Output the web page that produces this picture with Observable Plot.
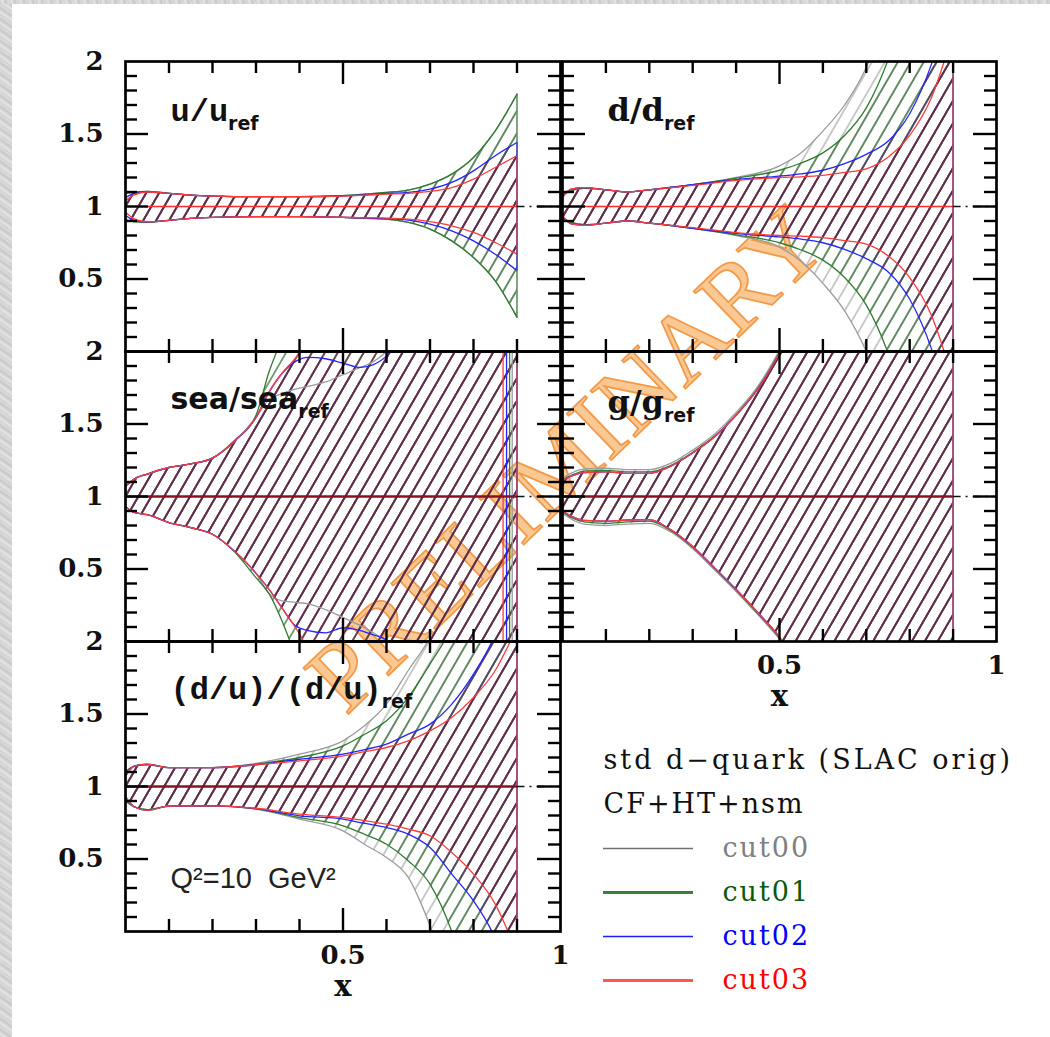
<!DOCTYPE html>
<html>
<head>
<meta charset="utf-8">
<script src="https://cdn.jsdelivr.net/npm/d3@7"></script>
<script src="https://cdn.jsdelivr.net/npm/@observablehq/plot@0.6"></script>
<style>
  html, body { margin: 0; padding: 0; background: #ffffff; }
  #page { position: relative; width: 1050px; height: 1037px; background: #ffffff; overflow: hidden; }
  #strip-left { position: absolute; left: 0; top: 0; width: 12px; height: 1037px;
    background: repeating-linear-gradient(35deg, #cfcfcf 0px, #e4e4e4 3px, #c8c8c8 6px, #dedede 9px); }
  #strip-top { position: absolute; left: 0; top: 0; width: 1050px; height: 4px;
    background: repeating-linear-gradient(80deg, #cfcfcf 0px, #e4e4e4 3px, #c8c8c8 6px, #dedede 9px); }
  .cell { position: absolute; }
  .cell svg { overflow: visible; }
</style>
</head>
<body>
<div id="page">
  <div id="strip-left"></div>
  <div id="strip-top"></div>
</div>
<script>
// ---------------- data ----------------
const cuts = ["cut00", "cut01", "cut02", "cut03"];
const lineColors = ["#9c9c9c", "#2f7d2f", "#2424ff", "#ff3a3a"];
const hatchColors = ["#ababab", "#2f6b2f", "#4a2868", "#6c1a3c"];
const legendLineColors = ["#707070", "#3d7d3d", "#1e1eff", "#ff5555"];
const legendTextColors = ["#808080", "#0a5a0a", "#0000ff", "#ff0000"];
const legendTitles = ["std d\u2212quark (SLAC orig)", "CF+HT+nsm"];
const q2Label = ["Q\u00b2=10  GeV\u00b2"];
const watermark = "PRELIMINARY";

const yTickLabels = [0.5, 1, 1.5, 2];
const xTickLabels = [0.5, 1];
const xAxisLabel = ["x"];
const minorXTicks = [0.1, 0.2, 0.3, 0.4, 0.6, 0.7, 0.8, 0.9];
const majorXTicks = [0.5];
const minorYTicks = [0.1, 0.2, 0.3, 0.4, 0.6, 0.7, 0.8, 0.9, 1.1, 1.2, 1.3, 1.4, 1.6, 1.7, 1.8, 1.9];
const majorYTicks = [0.5, 1, 1.5];
const refValue = [1];
const xEnd = 1;

// u / u_ref
const uX = [0, 0.02, 0.05, 0.1, 0.15, 0.2, 0.3, 0.4, 0.5, 0.55, 0.6, 0.65, 0.7, 0.75, 0.8, 0.85, 0.9];
const uUpper = [
  [1.09, 1.10, 1.105, 1.09, 1.078, 1.072, 1.068, 1.068, 1.075, 1.085, 1.097, 1.113, 1.154, 1.223, 1.338, 1.522, 1.775],
  [1.09, 1.10, 1.105, 1.09, 1.078, 1.072, 1.068, 1.068, 1.075, 1.085, 1.097, 1.113, 1.154, 1.223, 1.338, 1.522, 1.775],
  [1.06, 1.09, 1.10, 1.09, 1.078, 1.072, 1.068, 1.068, 1.074, 1.080, 1.090, 1.097, 1.120, 1.166, 1.246, 1.350, 1.442],
  [1.04, 1.08, 1.10, 1.09, 1.078, 1.072, 1.068, 1.068, 1.072, 1.078, 1.085, 1.090, 1.104, 1.131, 1.189, 1.269, 1.350]
];
const uLower = [
  [0.91, 0.895, 0.89, 0.905, 0.918, 0.925, 0.93, 0.93, 0.925, 0.918, 0.913, 0.89, 0.844, 0.763, 0.648, 0.487, 0.235],
  [0.91, 0.895, 0.89, 0.905, 0.918, 0.925, 0.93, 0.93, 0.925, 0.918, 0.913, 0.89, 0.844, 0.763, 0.648, 0.487, 0.235],
  [0.94, 0.905, 0.893, 0.905, 0.918, 0.925, 0.93, 0.93, 0.925, 0.92, 0.917, 0.906, 0.878, 0.832, 0.763, 0.671, 0.557],
  [0.96, 0.915, 0.895, 0.905, 0.918, 0.925, 0.93, 0.93, 0.926, 0.922, 0.92, 0.913, 0.896, 0.867, 0.821, 0.752, 0.672]
];

// d / d_ref
const dX = [0, 0.02, 0.05, 0.1, 0.15, 0.2, 0.3, 0.4, 0.5, 0.55, 0.6, 0.65, 0.7, 0.75, 0.8, 0.85, 0.9];
const dUpper = [
  [1.08, 1.11, 1.125, 1.115, 1.10, 1.115, 1.15, 1.20, 1.28, 1.37, 1.52, 1.70, 1.96, 2.4, 3, 3, 3],
  [1.08, 1.11, 1.125, 1.115, 1.10, 1.115, 1.15, 1.195, 1.25, 1.30, 1.37, 1.49, 1.68, 2.01, 2.5, 3, 3],
  [1.07, 1.12, 1.13, 1.115, 1.10, 1.115, 1.15, 1.185, 1.21, 1.225, 1.25, 1.295, 1.36, 1.45, 1.64, 1.98, 2.5],
  [1.06, 1.12, 1.13, 1.115, 1.10, 1.115, 1.145, 1.18, 1.20, 1.205, 1.215, 1.235, 1.26, 1.34, 1.49, 1.75, 2.2]
];
const dLower = [
  [0.92, 0.89, 0.875, 0.885, 0.90, 0.885, 0.85, 0.80, 0.72, 0.62, 0.47, 0.28, 0.0, -0.4, -1, -1, -1],
  [0.92, 0.89, 0.875, 0.885, 0.90, 0.885, 0.85, 0.805, 0.75, 0.70, 0.63, 0.51, 0.32, -0.01, -0.5, -1, -1],
  [0.93, 0.88, 0.87, 0.885, 0.90, 0.885, 0.85, 0.815, 0.79, 0.775, 0.75, 0.705, 0.64, 0.55, 0.36, 0.02, -0.5],
  [0.94, 0.88, 0.87, 0.885, 0.90, 0.885, 0.855, 0.82, 0.80, 0.795, 0.785, 0.765, 0.74, 0.66, 0.51, 0.25, -0.2]
];

// sea / sea_ref
const seaX = [0, 0.02, 0.05, 0.1, 0.15, 0.2, 0.25, 0.3, 0.33, 0.36, 0.39, 0.42, 0.46, 0.5, 0.54, 0.57, 0.6, 0.63, 0.7, 0.8, 0.9];
const seaUpper = [
  [1.07, 1.12, 1.155, 1.20, 1.225, 1.265, 1.38, 1.545, 1.67, 1.71, 1.74, 1.76, 1.79, 1.84, 1.89, 1.93, 2.0, 2.1, 3, 3, 3],
  [1.07, 1.12, 1.155, 1.20, 1.225, 1.265, 1.385, 1.56, 1.86, 2.1, 2.4, 2.7, 3, 3, 3, 3, 3, 3, 3, 3, 3],
  [1.07, 1.12, 1.155, 1.20, 1.225, 1.265, 1.38, 1.545, 1.72, 1.85, 1.93, 1.96, 1.95, 1.92, 1.89, 1.91, 1.97, 2.1, 3, 3, 3],
  [1.07, 1.12, 1.155, 1.20, 1.225, 1.265, 1.38, 1.545, 1.72, 1.85, 1.95, 2.05, 2.2, 2.3, 2.4, 2.5, 2.6, 2.7, 3, 3, 3]
];
const seaLower = [
  [0.93, 0.89, 0.875, 0.82, 0.785, 0.74, 0.625, 0.47, 0.33, 0.28, 0.27, 0.26, 0.22, 0.166, 0.11, 0.06, 0.0, -0.1, -1, -1, -1],
  [0.93, 0.89, 0.875, 0.82, 0.785, 0.74, 0.62, 0.44, 0.33, 0.14, -0.1, -0.4, -1, -1, -1, -1, -1, -1, -1, -1, -1],
  [0.93, 0.89, 0.875, 0.82, 0.785, 0.74, 0.625, 0.47, 0.36, 0.23, 0.11, 0.075, 0.06, 0.095, 0.075, 0.045, 0.01, -0.1, -1, -1, -1],
  [0.93, 0.89, 0.875, 0.82, 0.785, 0.74, 0.625, 0.47, 0.36, 0.23, 0.10, -0.05, -0.2, -0.3, -0.4, -0.5, -0.6, -0.7, -1, -1, -1]
];
const seaPoleX = [0.889, 0.883, 0.876, 0.868];

// g / g_ref
const gX = [0, 0.02, 0.05, 0.1, 0.15, 0.2, 0.25, 0.3, 0.35, 0.4, 0.45, 0.5, 0.55, 0.6, 0.7, 0.8, 0.9];
const gUpper = [
  [1.125, 1.16, 1.19, 1.195, 1.185, 1.185, 1.23, 1.32, 1.43, 1.58, 1.76, 2.01, 2.32, 2.7, 3, 3, 3],
  [1.115, 1.145, 1.175, 1.18, 1.17, 1.17, 1.215, 1.305, 1.415, 1.565, 1.745, 1.995, 2.3, 2.7, 3, 3, 3],
  [1.11, 1.14, 1.165, 1.17, 1.16, 1.16, 1.21, 1.30, 1.41, 1.56, 1.74, 1.99, 2.3, 2.7, 3, 3, 3],
  [1.11, 1.14, 1.165, 1.17, 1.16, 1.16, 1.21, 1.30, 1.41, 1.56, 1.74, 1.99, 2.3, 2.7, 3, 3, 3]
];
const gLower = [
  [0.885, 0.845, 0.81, 0.80, 0.81, 0.815, 0.755, 0.64, 0.495, 0.345, 0.185, 0.015, -0.2, -0.5, -1, -1, -1],
  [0.895, 0.855, 0.825, 0.815, 0.825, 0.83, 0.765, 0.65, 0.505, 0.355, 0.195, 0.025, -0.2, -0.5, -1, -1, -1],
  [0.90, 0.865, 0.835, 0.83, 0.838, 0.84, 0.77, 0.655, 0.51, 0.36, 0.20, 0.03, -0.2, -0.5, -1, -1, -1],
  [0.90, 0.865, 0.835, 0.83, 0.838, 0.84, 0.77, 0.655, 0.51, 0.36, 0.20, 0.03, -0.2, -0.5, -1, -1, -1]
];

// (d/u) / (d/u)_ref
const duX = [0, 0.02, 0.05, 0.1, 0.2, 0.3, 0.4, 0.5, 0.55, 0.6, 0.65, 0.7, 0.75, 0.8, 0.85, 0.9];
const duUpper = [
  [1.10, 1.14, 1.15, 1.13, 1.13, 1.16, 1.223, 1.315, 1.42, 1.568, 1.80, 2.03, 2.4, 3, 3, 3],
  [1.10, 1.14, 1.15, 1.13, 1.13, 1.155, 1.20, 1.28, 1.36, 1.453, 1.614, 1.844, 2.1, 2.5, 3, 3],
  [1.07, 1.14, 1.155, 1.13, 1.13, 1.15, 1.188, 1.223, 1.255, 1.292, 1.361, 1.43, 1.568, 1.775, 2.05, 2.5],
  [1.07, 1.14, 1.155, 1.13, 1.13, 1.15, 1.177, 1.211, 1.24, 1.269, 1.315, 1.384, 1.476, 1.614, 1.80, 2.1]
];
const duLower = [
  [0.90, 0.86, 0.84, 0.865, 0.867, 0.844, 0.775, 0.694, 0.60, 0.51, 0.373, 0.04, -0.4, -1, -1, -1],
  [0.90, 0.86, 0.84, 0.865, 0.867, 0.845, 0.786, 0.729, 0.67, 0.602, 0.488, 0.327, 0.0, -0.5, -1, -1],
  [0.93, 0.86, 0.835, 0.865, 0.867, 0.848, 0.798, 0.775, 0.745, 0.717, 0.671, 0.579, 0.396, 0.211, -0.05, -0.5],
  [0.93, 0.86, 0.835, 0.865, 0.867, 0.85, 0.81, 0.786, 0.765, 0.74, 0.706, 0.66, 0.545, 0.396, 0.189, -0.15]
];

// ---------------- layout / style ----------------
const colLeft = [125, 562];
const colWidth = [435, 434];
const rowTop = [60.7, 350.7, 640.7];
const rowHeight = 290;

const monoBold = "Liberation Mono";
const serifBold = "DejaVu Serif";
const sansBold = "DejaVu Sans";

const panels = [
  {label: "u/u", font: monoBold, size: 32, xs: uX, up: uUpper, lo: uLower, col: 0, row: 0, dy: 59, center: "#ff2a2a", cw: 1.6},
  {label: "d/d", font: serifBold, size: 32, xs: dX, up: dUpper, lo: dLower, col: 1, row: 0, dy: 59, center: "#ff2a2a", cw: 1.6},
  {label: "sea/sea", font: sansBold, size: 30, xs: seaX, up: seaUpper, lo: seaLower, col: 0, row: 1, dy: 57, center: "#8a1020", cw: 2.6, poles: seaPoleX},
  {label: "g/g", font: serifBold, size: 32, xs: gX, up: gUpper, lo: gLower, col: 1, row: 1, dy: 61, center: "#8a1020", cw: 2.6, xAxis: true},
  {label: "(d/u)/(d/u)", font: monoBold, size: 32, xs: duX, up: duUpper, lo: duLower, col: 0, row: 2, dy: 57, center: "#8a1020", cw: 2.6, xAxis: true, q2: true}
];

const page = document.getElementById("page");

// hatch patterns
(function () {
  const NS = "http://www.w3.org/2000/svg";
  const defsSvg = document.createElementNS(NS, "svg");
  defsSvg.setAttribute("width", "0");
  defsSvg.setAttribute("height", "0");
  defsSvg.style.position = "absolute";
  const defs = document.createElementNS(NS, "defs");
  const p = 11.2;
  hatchColors.forEach((c, i) => {
    const pat = document.createElementNS(NS, "pattern");
    pat.setAttribute("id", "hatch" + i);
    pat.setAttribute("patternUnits", "userSpaceOnUse");
    pat.setAttribute("width", p);
    pat.setAttribute("height", p);
    pat.setAttribute("patternTransform", "rotate(30)");
    const ln = document.createElementNS(NS, "line");
    ln.setAttribute("x1", p / 2); ln.setAttribute("x2", p / 2);
    ln.setAttribute("y1", -1); ln.setAttribute("y2", p + 1);
    ln.setAttribute("stroke", c);
    ln.setAttribute("stroke-width", 1.25);
    pat.appendChild(ln);
    defs.appendChild(pat);
  });
  defsSvg.appendChild(defs);
  page.appendChild(defsSvg);
})();

// watermark (drawn beneath the panels)
(function () {
  const NS = "http://www.w3.org/2000/svg";
  const svg = document.createElementNS(NS, "svg");
  svg.setAttribute("width", 1050);
  svg.setAttribute("height", 1037);
  svg.style.cssText = "position:absolute;left:0;top:0;pointer-events:none";
  const t = document.createElementNS(NS, "text");
  t.setAttribute("transform", "translate(566,458) rotate(-44)");
  t.setAttribute("text-anchor", "middle");
  t.setAttribute("dominant-baseline", "central");
  t.setAttribute("font-family", "Liberation Serif");
  t.setAttribute("font-size", 98);
  t.setAttribute("letter-spacing", 1);
  t.setAttribute("fill", "#fac892");
  t.setAttribute("stroke", "#f39a4a");
  t.setAttribute("stroke-width", 1.8);
  t.textContent = watermark;
  svg.appendChild(t);
  page.appendChild(svg);
})();

function place(el, left, top) {
  const d = document.createElement("div");
  d.className = "cell";
  d.style.left = left + "px";
  d.style.top = top + "px";
  d.appendChild(el);
  page.appendChild(d);
}

function makePanel(p) {
  const W = colWidth[p.col], H = rowHeight;
  const ml = p.col === 0 ? 62 : 4, mr = 4, mt = 4, mb = p.xAxis ? 82 : 4;
  const last = p.xs.length - 1;
  const rows = cuts.map((c, i) => p.xs.map((x, j) => ({x, lo: p.lo[i][j], hi: p.up[i][j], cut: c})));
  const marks = [];
  rows.forEach((r, i) => marks.push(
    Plot.areaY(r, {x: "x", y1: "lo", y2: "hi", fill: `url(#hatch${i})`, curve: "monotone-x", clip: true})
  ));
  rows.forEach((r, i) => {
    marks.push(Plot.line(r, {x: "x", y: "hi", stroke: lineColors[i], strokeWidth: 1.3, curve: "monotone-x", clip: true}));
    marks.push(Plot.line(r, {x: "x", y: "lo", stroke: lineColors[i], strokeWidth: 1.3, curve: "monotone-x", clip: true}));
  });
  rows.forEach((r, i) => marks.push(
    Plot.ruleX([r[last]], {x: "x", y1: "lo", y2: "hi", stroke: lineColors[i], strokeOpacity: 0.65, strokeWidth: 1.5, clip: true})
  ));
  if (p.poles) {
    p.poles.forEach((px, i) => marks.push(
      Plot.ruleX([px], {x: d => d, stroke: lineColors[i], strokeWidth: 1.3})
    ));
  }
  marks.push(Plot.ruleY(refValue, {y: d => d, x1: p.xs[0], x2: p.xs[last], stroke: p.center, strokeWidth: p.cw}));
  marks.push(Plot.ruleY(refValue, {y: d => d, x1: p.xs[last], x2: xEnd, stroke: "#111", strokeWidth: 1.5, strokeDasharray: "8,5,2,5"}));
  // inward ticks on all four sides
  const tk = {stroke: "black", strokeWidth: 2.4};
  marks.push(Plot.tickX(minorXTicks, {x: d => d, insetBottom: H - 12, ...tk}));
  marks.push(Plot.tickX(minorXTicks, {x: d => d, insetTop: H - 12, ...tk}));
  marks.push(Plot.tickX(majorXTicks, {x: d => d, insetBottom: H - 23, ...tk}));
  marks.push(Plot.tickX(majorXTicks, {x: d => d, insetTop: H - 23, ...tk}));
  marks.push(Plot.tickY(minorYTicks, {y: d => d, insetRight: W - 12, ...tk}));
  marks.push(Plot.tickY(minorYTicks, {y: d => d, insetLeft: W - 12, ...tk}));
  marks.push(Plot.tickY(majorYTicks, {y: d => d, insetRight: W - 23, ...tk}));
  marks.push(Plot.tickY(majorYTicks, {y: d => d, insetLeft: W - 23, ...tk}));
  marks.push(Plot.frame({stroke: "black", strokeWidth: 2.7}));
  // panel label
  marks.push(Plot.text([p.label], {text: d => d, frameAnchor: "top-left", dx: 45, dy: p.dy, textAnchor: "start", lineAnchor: "bottom",
    fontSize: p.size, fontWeight: "bold", fontFamily: p.font, fill: "#111"}));
  if (p.q2) {
    marks.push(Plot.text(q2Label, {text: d => d, frameAnchor: "top-left", dx: 45, dy: 246, textAnchor: "start", lineAnchor: "bottom",
      fontSize: 29, fontFamily: "Liberation Sans", fill: "#222"}));
  }
  if (p.col === 0) {
    marks.push(Plot.text(yTickLabels, {y: d => d, text: d => String(d), frameAnchor: "left", textAnchor: "end", dx: -22,
      fontSize: 26, fontWeight: "bold", fontFamily: "DejaVu Serif", fill: "#111"}));
  }
  if (p.xAxis) {
    marks.push(Plot.text(xTickLabels, {x: d => d, text: d => String(d), frameAnchor: "bottom", dy: 32,
      fontSize: 26, fontWeight: "bold", fontFamily: "DejaVu Serif", fill: "#111"}));
    marks.push(Plot.text(xAxisLabel, {text: d => d, frameAnchor: "bottom", dy: 64,
      fontSize: 29, fontWeight: "bold", fontFamily: "DejaVu Serif", fill: "#111"}));
  }
  const svg = Plot.plot({
    width: ml + W + mr, height: mt + H + mb,
    marginLeft: ml, marginRight: mr, marginTop: mt, marginBottom: mb,
    x: {domain: [0, 1], axis: null},
    y: {domain: [0, 2], axis: null},
    style: {background: "transparent", overflow: "visible"},
    marks
  });
  // subscript "ref"
  d3.select(svg).selectAll("text").filter(function () { return this.textContent === p.label; })
    .append("tspan").attr("dy", 9).attr("font-size", 19).attr("font-family", "DejaVu Sans").attr("font-weight", "bold").text("ref");
  place(svg, colLeft[p.col] - ml, rowTop[p.row] - mt);
}

panels.forEach(makePanel);

// legend
(function () {
  const legendRows = [...legendTitles, ...cuts];
  const marks = [
    Plot.text(legendTitles, {y: d => d, text: d => d, frameAnchor: "left", textAnchor: "start",
      fontSize: 27, fontFamily: "DejaVu Serif", fill: "#111"})
  ];
  cuts.forEach((c, i) => {
    marks.push(Plot.ruleY([c], {y: d => d, insetRight: 337, stroke: legendLineColors[i], strokeWidth: (i % 2 === 1) ? 3 : 1.6}));
    marks.push(Plot.text([c], {y: d => d, text: d => d, frameAnchor: "left", textAnchor: "start", dx: 119,
      fontSize: 27, fontFamily: "DejaVu Serif", fill: legendTextColors[i]}));
  });
  const svg = Plot.plot({
    width: 460, height: 280, marginLeft: 33, marginRight: 0, marginTop: 0, marginBottom: 0,
    y: {type: "point", domain: legendRows, range: [40, 260], padding: 0, axis: null},
    style: {background: "transparent", overflow: "visible"},
    marks
  });
  d3.select(svg).selectAll("text").attr("letter-spacing", 2)
    .filter(function () { return this.textContent === legendTitles[0]; }).attr("letter-spacing", 3);
  place(svg, 570, 720);
})();
</script>
</body>
</html>
